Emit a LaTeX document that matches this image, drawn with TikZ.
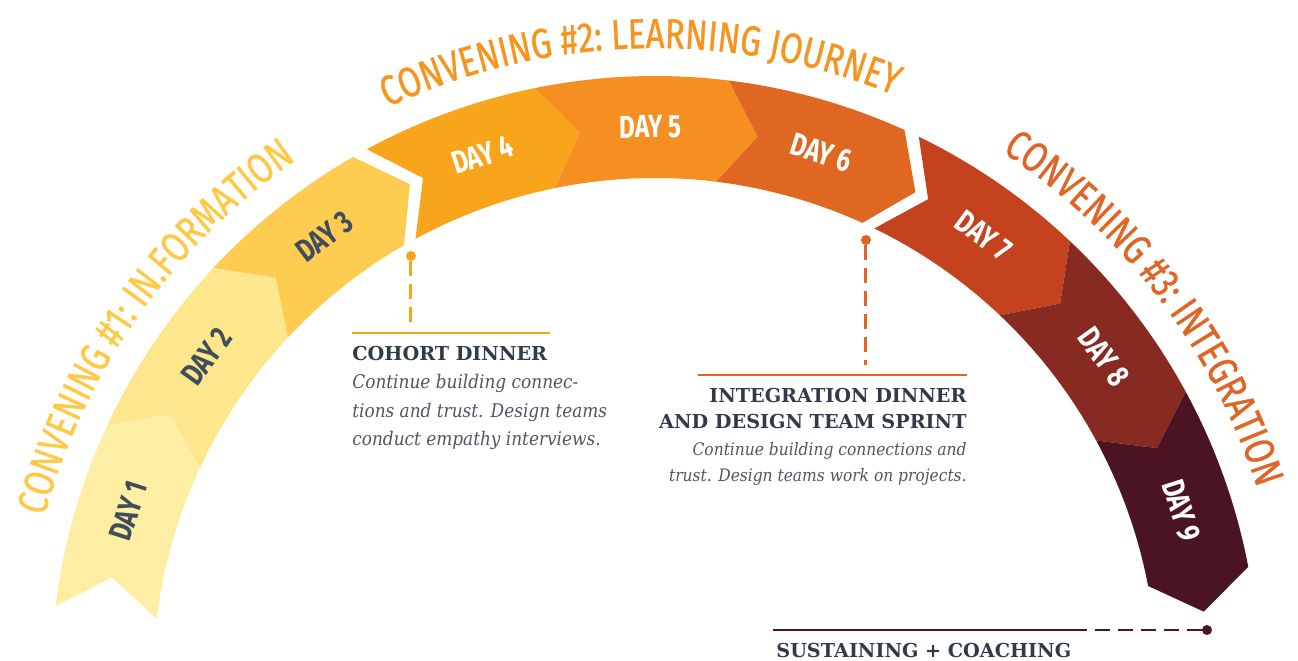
\documentclass[tikz,border=0pt]{standalone}
\usepackage{fontspec}
\usepackage{tikz}
\usetikzlibrary{positioning,decorations.text}

\newfontfamily\handfont[FakeStretch=0.76]{Fira Sans}
\newfontfamily\headfont[FakeStretch=0.78,FakeBold=0.8]{Fira Sans}
\newfontfamily\slabfont{DejaVu Serif}
\newfontfamily\slabitfont[FakeStretch=0.9]{DejaVu Serif}

\definecolor{dayA}{HTML}{FEEEA4}
\definecolor{dayB}{HTML}{FDE68C}
\definecolor{dayC}{HTML}{FECC50}
\definecolor{dayD}{HTML}{F9A51C}
\definecolor{dayE}{HTML}{F68F22}
\definecolor{dayF}{HTML}{E06722}
\definecolor{dayG}{HTML}{C5421E}
\definecolor{dayH}{HTML}{872A22}
\definecolor{dayI}{HTML}{4B1423}
\definecolor{convA}{HTML}{FFC845}
\definecolor{convB}{HTML}{F7941D}
\definecolor{convC}{HTML}{E06424}
\definecolor{slate}{HTML}{3E4E5E}
\definecolor{ink}{HTML}{2F3B48}
\definecolor{inkgrey}{HTML}{4E5662}

\begin{document}
\begin{tikzpicture}[x=0.5pt,y=0.5pt,
  daylbl/.style={font=\handfont\bfseries\fontsize{16}{16}\selectfont,inner sep=0},
  notehead/.style={font=\slabfont\bfseries\fontsize{9.6}{13}\selectfont,text=ink,inner sep=0},
  notebody/.style={font=\slabitfont\itshape\fontsize{8.6}{13}\selectfont,text=inkgrey,inner sep=0},
  stud/.style={circle,fill=#1,inner sep=0,minimum size=5pt},
  noterule/.style={draw=#1,line width=1pt},
  leader/.style={draw=#1,line width=1.5pt,dash pattern=on 7.5pt off 4pt},
  arcname/.style 2 args={decorate,decoration={text along path,text align=center,
    text={|\headfont\fontsize{21}{21}\selectfont\color{#1}|#2}}}
]
\useasboundingbox (-655,20) rectangle (643,680);

% the nine days as chevrons round the arc
\foreach \n/\a/\b/\c/\tc in {1/173/155/dayA/slate,2/155/137/dayB/slate,3/137/120/dayC/slate,
    4/118.5/101.5/dayD/white,5/101.5/83/dayE/white,6/83/65.6/dayF/white,
    7/64.1/46.6/dayG/white,8/46.6/28.5/dayH/white,9/28.5/10.8/dayI/white}{
  \pgfmathsetmacro\m{(\a+\b)/2-1.8}
  \fill[\c] (\a:604) arc[start angle=\a,end angle=\b,radius=604] -- ({\b-3.7}:553)
    -- (\b:502) arc[start angle=\b,end angle=\a,radius=502] -- ({\a-3.7}:553) -- cycle;
  \node[daylbl,text=\tc,rotate=\m-90] (day\n) at (\m:553) {DAY \n};
}

\path[arcname={convA}{CONVENING {\#}1: IN.FORMATION}]
  (169.8:632) arc[start angle=169.8,end angle=119.8,radius=632];
\path[arcname={convB}{CONVENING {\#}2: LEARNING JOURNEY}]
  (121.4:632) arc[start angle=121.4,end angle=61.4,radius=632];
\path[arcname={convC}{CONVENING {\#}3: INTEGRATION}]
  (62.2:632) arc[start angle=62.2,end angle=12.2,radius=632];

% cohort dinner
\node[stud=dayD] (cohortdot) at (-244,424) {};
\coordinate (cohortfoot) at (-244,358);
\coordinate (cohortL) at (-303,347);
\coordinate (cohortR) at (-105,347);
\draw[leader=dayD] (cohortdot) -- (cohortfoot);
\draw[noterule=dayD] (cohortL) -- (cohortR);
\node[notehead,anchor=base west] (cohort) at (-303,320) {COHORT DINNER};
\node[notebody,anchor=north west,align=left,font=\slabitfont\itshape\fontsize{9.4}{14.2}\selectfont]
  (cohortnote) at (-303,306) {Continue building connec-\\tions and trust. Design teams\\conduct empathy interviews.};

% integration dinner
\node[stud=convC] (integdot) at (211,440) {};
\coordinate (integfoot) at (211,315);
\coordinate (integL) at (43,305);
\coordinate (integR) at (312,305);
\draw[leader=convC] (integdot) -- (integfoot);
\draw[noterule=convC] (integL) -- (integR);
\node[notehead,anchor=north east,align=right] (integ) at (312,292)
  {INTEGRATION DINNER\\AND DESIGN TEAM SPRINT};
\node[notebody,anchor=north east,align=right] (integnote) at (312,238)
  {Continue building connections and\\trust. Design teams work on projects.};

% sustaining + coaching
\node[stud=dayI] (sustaindot) at (552,50) {};
\coordinate (sustainL) at (118,50);
\coordinate (sustainR) at (417,50);
\draw[noterule=dayI] (sustainL) -- (sustainR);
\draw[leader=dayI,line width=1.2pt] (sustainR) -- (sustaindot);
\node[notehead,anchor=base west] (sustain) at (121,23) {SUSTAINING + COACHING};
\end{tikzpicture}
\end{document}
